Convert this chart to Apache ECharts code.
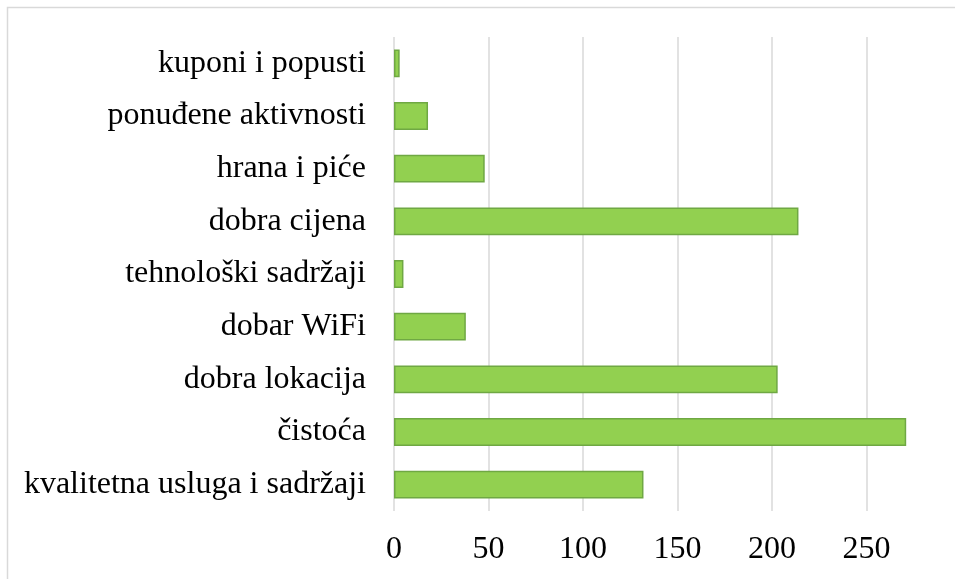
<!DOCTYPE html>
<html>
<head>
<meta charset="utf-8">
<script src="https://cdn.jsdelivr.net/npm/echarts@6/dist/echarts.min.js"></script>
<style>
  html, body { margin: 0; padding: 0; background: #fff; }
  #chart { width: 955px; height: 579px; }
</style>
</head>
<body>
<div id="chart"></div>
<script>
// podaci (odozdo prema gore)
var categories = [
    'kvalitetna usluga i sadržaji',
    'čistoća',
    'dobra lokacija',
    'dobar WiFi',
    'tehnološki sadržaji',
    'dobra cijena',
    'hrana i piće',
    'ponuđene aktivnosti',
    'kuponi i popusti'
];
var values = [132, 271, 203, 38, 5, 214, 48, 18, 3];

var fontFamily = '"Liberation Serif", "Times New Roman", serif';

var myChart = echarts.init(document.getElementById('chart'), null, { renderer: 'canvas' });

var option = {
    animation: false,
    graphic: [{
        type: 'rect',
        shape: { x: 7.5, y: 7.5, width: 1200, height: 1200 },
        style: { fill: 'none', stroke: '#d9d9d9', lineWidth: 1.5 },
        silent: true
    }],
    grid: {
        left: 394,
        top: 37,
        width: 567,
        height: 474,
        outerBoundsMode: 'none'
    },
    xAxis: {
        type: 'value',
        min: 0,
        max: 300,
        interval: 50,
        axisLine: { show: false },
        axisTick: { show: false },
        splitLine: { lineStyle: { color: '#d9d9d9', width: 1.5 } },
        axisLabel: {
            color: '#000',
            fontFamily: fontFamily,
            fontSize: 32,
            margin: 23,
            showMaxLabel: false
        }
    },
    yAxis: {
        type: 'category',
        data: categories,
        axisLine: { show: false },
        axisTick: { show: false },
        axisLabel: {
            color: '#000',
            fontFamily: fontFamily,
            fontSize: 32,
            margin: 28
        }
    },
    series: [{
        type: 'bar',
        data: values,
        barCategoryGap: '47%',
        itemStyle: {
            color: '#92d050',
            borderColor: '#6fa843',
            borderWidth: 1.5
        }
    }]
};

myChart.setOption(option);
</script>
</body>
</html>
